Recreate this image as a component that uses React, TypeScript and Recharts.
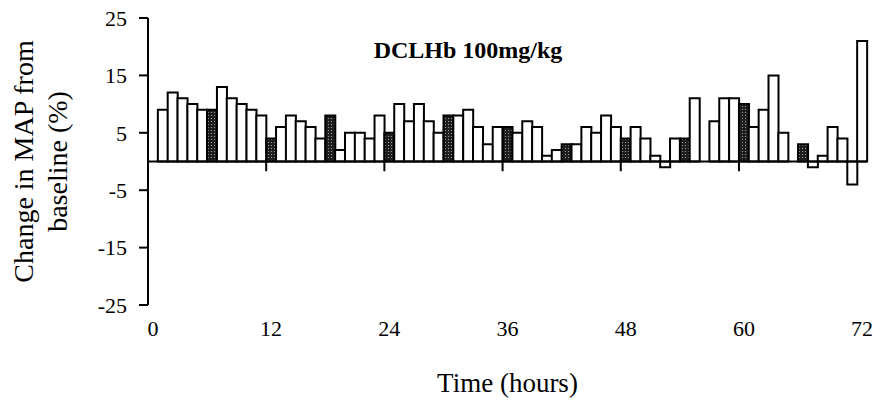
import React from "react";
import { BarChart, Bar, XAxis, YAxis, Cell, ReferenceLine } from "recharts";

// % change in MAP from baseline, one value per hour (0..72)
const mapChange = [
  0, 9, 12, 11, 10, 9, 9, 13, 11, 10, 9, 8, 4, 6, 8, 7, 6, 4, 8, 2, 5, 5, 4, 8,
  5, 10, 7, 10, 7, 5, 8, 8, 9, 6, 3, 6, 6, 5, 7, 6, 1, 2, 3, 3, 6, 5, 8, 6, 4,
  6, 4, 1, -1, 4, 4, 11, 0, 7, 11, 11, 10, 6, 9, 15, 5, 0, 3, -1, 1, 6, 4, -4, 21,
];
// hours drawn as dark (stippled) bars
const doseHours = [6, 12, 18, 24, 30, 36, 42, 48, 54, 60, 66];
const xTicks = [0, 12, 24, 36, 48, 60, 72];
const yTicks = [-25, -15, -5, 5, 15, 25];

const data = mapChange.map((v, i) => ({ hour: i, change: v }));

const FONT = "'Liberation Serif', 'Times New Roman', serif";

const YLabel = (props: any) => {
  const vb = props.viewBox;
  const cx = vb.x + 33;
  const cy = vb.y + vb.height / 2;
  return (
    <text
      x={cx}
      y={cy}
      transform={`rotate(-90 ${cx} ${cy})`}
      textAnchor="middle"
      fontFamily={FONT}
      fontSize={28}
      fill="#000"
    >
      <tspan x={cx} dy={0}>Change in MAP from</tspan>
      <tspan x={cx} dy={34}>baseline (%)</tspan>
    </text>
  );
};

export default function App() {
  return (
    <div style={{ position: "absolute", left: 0, top: 0, width: 885, height: 415, background: "#fff" }}>
      <svg width={0} height={0} style={{ position: "absolute" }}>
        <defs>
          <pattern id="stipple" width="3" height="3" patternUnits="userSpaceOnUse">
            <rect width="3" height="3" fill="#1e1e1e" />
            <rect x="1" y="1" width="1" height="1" fill="#9a9a9a" />
          </pattern>
        </defs>
      </svg>
      <BarChart
        width={885}
        height={415}
        data={data}
        margin={{ top: 18, right: 18, left: 0, bottom: 0 }}
        barCategoryGap={0}
      >
        <XAxis
          type="number"
          dataKey="hour"
          domain={[-0.5, 72.5]}
          ticks={xTicks}
          interval={0}
          axisLine={false}
          tickLine={false}
          tickSize={0}
          tickMargin={15}
          height={110}
          tick={{ fill: "#000", fontFamily: FONT, fontSize: 22 }}
          label={{
            value: "Time (hours)",
            position: "insideBottom",
            offset: 23,
            fill: "#000",
            fontFamily: FONT,
            fontSize: 27,
          }}
        />
        <YAxis
          type="number"
          domain={[-25, 25]}
          ticks={yTicks}
          interval={0}
          width={148}
          tickSize={9}
          tickMargin={12}
          axisLine={{ stroke: "#000", strokeWidth: 2 }}
          tickLine={{ stroke: "#000", strokeWidth: 2 }}
          tick={{ fill: "#000", fontFamily: FONT, fontSize: 22 }}
          label={{ content: YLabel }}
        />
        <Bar dataKey="change" isAnimationActive={false} stroke="#000" strokeWidth={2}>
          {data.map((d) => (
            <Cell key={d.hour} fill={doseHours.includes(d.hour) ? "url(#stipple)" : "#fff"} />
          ))}
        </Bar>
        <ReferenceLine y={0} stroke="#000" strokeWidth={2} />
        {xTicks.slice(1, -1).map((t) => (
          <ReferenceLine
            key={t}
            segment={[
              { x: t - 0.5, y: 0 },
              { x: t - 0.5, y: -1.7 },
            ]}
            stroke="#000"
            strokeWidth={2}
          />
        ))}
      </BarChart>
      <svg
        width={885}
        height={415}
        style={{ position: "absolute", left: 0, top: 0, pointerEvents: "none" }}
      >
        <text x={468} y={58} textAnchor="middle" fontFamily={FONT} fontWeight="bold" fontSize={24} fill="#000">
          DCLHb 100mg/kg
        </text>
      </svg>
    </div>
  );
}
